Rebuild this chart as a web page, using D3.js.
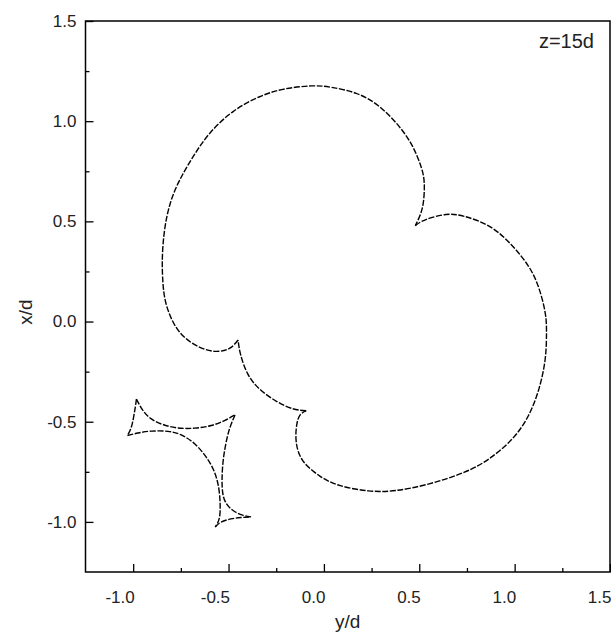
<!DOCTYPE html>
<html>
<head>
<meta charset="utf-8">
<script src="https://cdn.jsdelivr.net/npm/d3@7"></script>
<style>
  body { margin: 0; background: #fff; }
  text { font-family: "Liberation Sans", Arial, sans-serif; fill: #222; }
</style>
</head>
<body>
<svg width="611" height="644"></svg>
<script>
// points are [y/d, x/d] : y/d runs horizontally, x/d vertically
// big caustic, split at its three cusps
var bigLeftTop = [[-0.450,-0.092],[-0.493,-0.133],[-0.563,-0.149],[-0.650,-0.129],[-0.738,-0.072],
  [-0.798,0.011],[-0.833,0.111],[-0.845,0.210],[-0.847,0.320],[-0.835,0.459],[-0.805,0.592],
  [-0.755,0.708],[-0.685,0.824],[-0.598,0.940],[-0.476,1.048],[-0.337,1.122],[-0.205,1.161],
  [-0.065,1.176],[0.039,1.169],[0.169,1.139],[0.291,1.073],[0.395,0.973],[0.465,0.874],
  [0.509,0.774],[0.526,0.692],[0.521,0.592],[0.502,0.525],[0.479,0.479]];
var bigRight = [[0.479,0.479],[0.535,0.509],[0.639,0.534],[0.736,0.525],[0.866,0.476],[0.980,0.386],
  [1.072,0.277],[1.127,0.167],[1.160,0.045],[1.167,-0.055],[1.160,-0.188],[1.127,-0.337],
  [1.072,-0.470],[0.987,-0.586],[0.866,-0.685],[0.734,-0.753],[0.552,-0.810],[0.378,-0.843],
  [0.233,-0.845],[0.082,-0.818],[-0.023,-0.770],[-0.110,-0.695],[-0.145,-0.602],[-0.143,-0.519],
  [-0.126,-0.468],[-0.093,-0.445]];
var bigLower = [[-0.093,-0.445],[-0.163,-0.435],[-0.249,-0.398],[-0.337,-0.337],[-0.400,-0.260],
  [-0.437,-0.164],[-0.450,-0.092]];

// small caustic, split at its five cusps
var smallA = [[-0.983,-0.387],[-0.989,-0.428],[-0.998,-0.478],[-1.010,-0.528],[-1.030,-0.569]];
var smallB = [[-0.983,-0.387],[-0.948,-0.445],[-0.905,-0.486],[-0.844,-0.514],[-0.765,-0.531],
  [-0.678,-0.532],[-0.591,-0.519],[-0.521,-0.494],[-0.466,-0.466]];
var smallC = [[-1.030,-0.569],[-0.974,-0.556],[-0.905,-0.547],[-0.818,-0.548],[-0.748,-0.566],
  [-0.678,-0.610],[-0.617,-0.677],[-0.574,-0.751],[-0.551,-0.834],[-0.544,-0.917],
  [-0.549,-0.984],[-0.570,-1.025]];
var smallD = [[-0.466,-0.466],[-0.495,-0.536],[-0.516,-0.619],[-0.529,-0.702],[-0.534,-0.785],
  [-0.531,-0.851],[-0.516,-0.901],[-0.478,-0.942],[-0.426,-0.966],[-0.382,-0.975]];
var smallE = [[-0.570,-1.025],[-0.539,-1.001],[-0.487,-0.985],[-0.434,-0.978],[-0.382,-0.975]];

var xMajor = [-1.0, -0.5, 0.0, 0.5, 1.0, 1.5];
var xMinor = [-0.75, -0.25, 0.25, 0.75, 1.25];
var yMajor = [-1.0, -0.5, 0.0, 0.5, 1.0, 1.5];
var yMinor = [-0.75, -0.25, 0.25, 0.75, 1.25];

var svg = d3.select("svg");
var mLeft = 85.5, mRight = 610, mTop = 21, mBottom = 572;

var x = d3.scaleLinear().domain([-1.25, 1.5]).range([mLeft, mRight]);
var y = d3.scaleLinear().domain([-1.25, 1.5]).range([mBottom, mTop]);

// plain hyphen for negatives, like the original
var fmt = d => d3.format(".1f")(d).replace("\u2212", "-");

// ticks point inward
svg.append("g")
    .attr("transform", "translate(0," + mBottom + ")")
    .call(d3.axisBottom(x).tickValues(xMajor).tickSize(-8).tickPadding(19).tickFormat(fmt))
    .call(g => g.select(".domain").remove())
    .call(g => g.selectAll("text")
        .style("font-size", "17px")
        .attr("fill", "#222")
        .attr("text-anchor", "end")
        .attr("dx", "1"));
svg.append("g")
    .attr("transform", "translate(0," + mBottom + ")")
    .call(d3.axisBottom(x).tickValues(xMinor).tickSize(-4).tickFormat(""))
    .call(g => g.select(".domain").remove());

svg.append("g")
    .attr("transform", "translate(" + mLeft + ",0)")
    .call(d3.axisLeft(y).tickValues(yMajor).tickSize(-8).tickPadding(9).tickFormat(fmt))
    .call(g => g.select(".domain").remove())
    .call(g => g.selectAll("text").style("font-size", "17px").attr("fill", "#222"));
svg.append("g")
    .attr("transform", "translate(" + mLeft + ",0)")
    .call(d3.axisLeft(y).tickValues(yMinor).tickSize(-4).tickFormat(""))
    .call(g => g.select(".domain").remove());

svg.selectAll(".tick line").attr("stroke", "#000").attr("stroke-width", 1.3);

svg.append("rect")
    .attr("x", mLeft).attr("y", mTop)
    .attr("width", mRight - mLeft).attr("height", mBottom - mTop)
    .attr("fill", "none").attr("stroke", "#000").attr("stroke-width", 1.5);

var line = d3.line()
    .x(d => x(d[0]))
    .y(d => y(d[1]))
    .curve(d3.curveNatural);

var segs = [bigLeftTop, bigRight, bigLower, smallA, smallB, smallC, smallD, smallE];
svg.append("g").selectAll("path")
    .data(segs)
    .enter()
    .append("path")
    .attr("d", line)
    .attr("fill", "none")
    .attr("stroke", "#000")
    .attr("stroke-width", 1.4)
    .attr("stroke-dasharray", "6,1.6");

svg.append("text")
    .attr("x", 594).attr("y", 48)
    .attr("text-anchor", "end")
    .style("font-size", "20px")
    .text("z=15d");

svg.append("text")
    .attr("x", (mLeft + mRight) / 2).attr("y", 628)
    .attr("text-anchor", "middle")
    .style("font-size", "19px")
    .text("y/d");

svg.append("text")
    .attr("transform", "translate(32,312) rotate(-90)")
    .attr("text-anchor", "middle")
    .style("font-size", "19px")
    .text("x/d");
</script>
</body>
</html>
